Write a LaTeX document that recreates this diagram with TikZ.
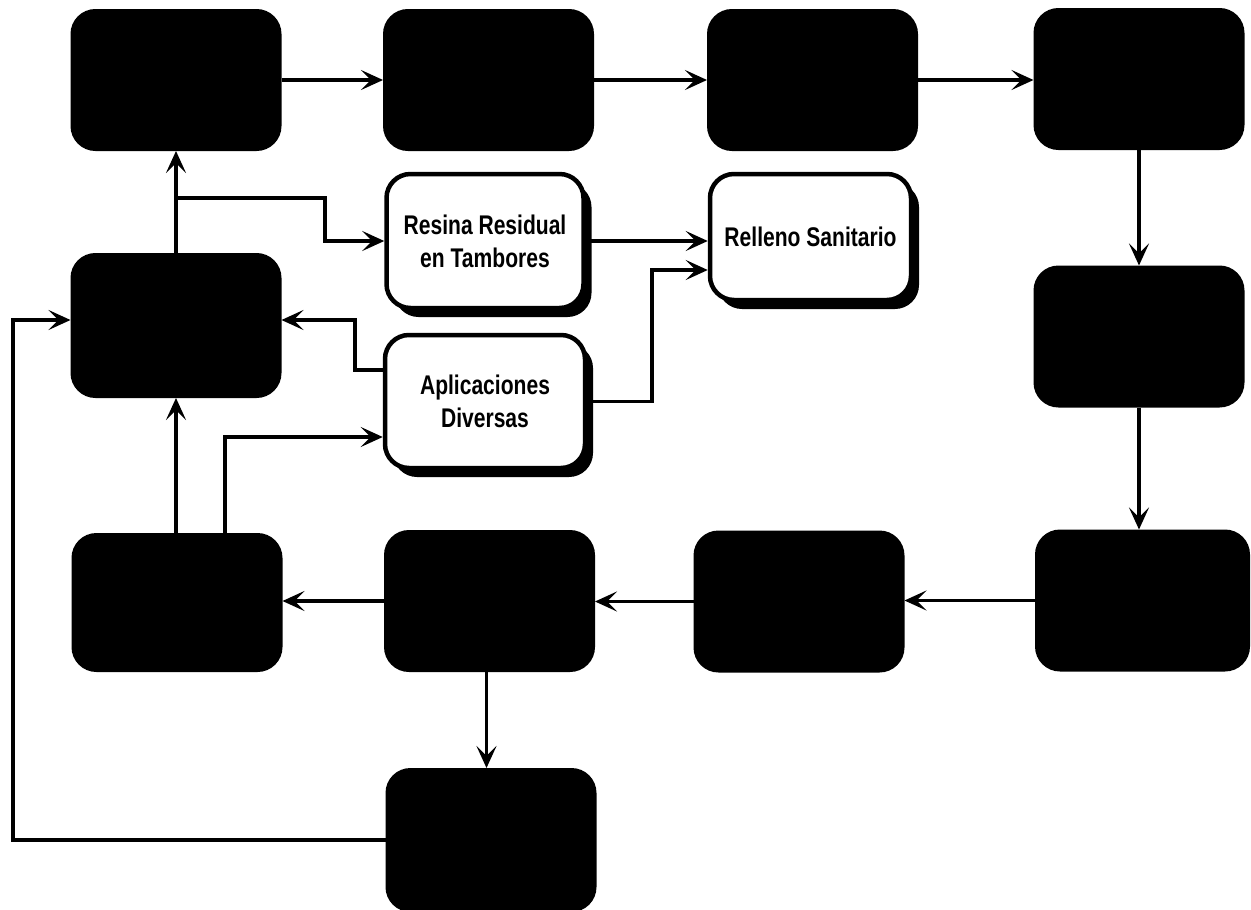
\documentclass[tikz,border=0pt]{standalone}
\usepackage{fontspec}
\setmainfont{Liberation Sans}[FakeStretch=0.78]
\usetikzlibrary{arrows.meta,shadows}
\begin{document}
\begin{tikzpicture}[x=1pt,y=-1pt,
  blackbox/.style={rectangle, rounded corners=24pt, fill=black, draw=black,
    line width=2pt, minimum width=209pt, minimum height=140pt, inner sep=0pt},
  whitebox/.style={rectangle, rounded corners=24pt, fill=white, draw=black,
    line width=4.5pt, align=center, inner sep=0pt,
    font=\bfseries\fontsize{27}{33}\selectfont,
    drop shadow={shadow xshift=8pt, shadow yshift=-9pt, fill=black, opacity=1}},
  flow/.style={line width=3.8pt, -{Stealth[length=22pt,width=20pt,inset=10pt]}},
]
\useasboundingbox (0,0) rectangle (1251,910);

% top row
\node[blackbox] (A1) at (176,80) {};
\node[blackbox] (A2) at (488.5,80) {};
\node[blackbox] (A3) at (812.5,80) {};
\node[blackbox] (A4) at (1139,79) {};
% middle
\node[blackbox, minimum height=143pt] (B1) at (176,325.5) {};
\node[blackbox] (R1) at (1139,336.5) {};
% bottom row
\node[blackbox, minimum height=137pt] (C1) at (177,602.5) {};
\node[blackbox] (C2) at (489.5,601) {};
\node[blackbox] (C3) at (799,601.5) {};
\node[blackbox, minimum width=213pt] (C4) at (1142.5,600.5) {};
\node[blackbox, minimum height=142pt] (D) at (491,840) {};

% labelled boxes
\node[whitebox, minimum width=197pt, minimum height=134pt] (Res) at (485,241) {Resina Residual\\en Tambores};
\node[whitebox, minimum width=201pt, minimum height=126pt] (Rel) at (810.5,237) {Relleno Sanitario};
\node[whitebox, minimum width=200pt, minimum height=133pt] (Apl) at (485,401.5) {Aplicaciones\\Diversas};

% bend points
\coordinate (j1) at (176,198);
\coordinate (j2) at (325,241);
\coordinate (k) at (652,270);
\coordinate (m1) at (355,370);
\coordinate (m2) at (355,320);
\coordinate (n) at (225,437);
\coordinate (q) at (13,320);

% main chain
\draw[flow] (A1) -- (A2);
\draw[flow] (A2) -- (A3);
\draw[flow] (A3.east) -- (A3.east -| A4.west);
\draw[flow] (A4) -- (R1);
\draw[flow] (R1.south) -- (R1.south |- C4.north);
\draw[flow] (C4.west) -- (C4.west -| C3.east);
\draw[flow] (C3.west) -- (C3.west -| C2.east);
\draw[flow] (C2.west) -- (C2.west -| C1.east);
\draw[flow] ([xshift=-3pt]C2.south) -- ([xshift=-3pt]C2.south |- D.north);
\draw[flow] (C1.north -| B1) -- (B1.south);
\draw[flow] (B1.north) -- (A1.south);
\draw[flow] (D.west) -| (q) -- (q -| B1.west);

% side branches
\draw[flow] (j1) -- (j1 -| j2) -- (j2) -- (j2 -| Res.west);
\draw[flow] (Res.east) -- (Res.east -| Rel.west);
\draw[flow] (Apl.east) -| (k) -- (k -| Rel.west);
\draw[flow] (m1 -| Apl.west) -- (m1) -- (m2) -- (m2 -| B1.east);
\draw[flow] (n |- C1.north) -- (n) -- (n -| Apl.west);
\end{tikzpicture}
\end{document}
